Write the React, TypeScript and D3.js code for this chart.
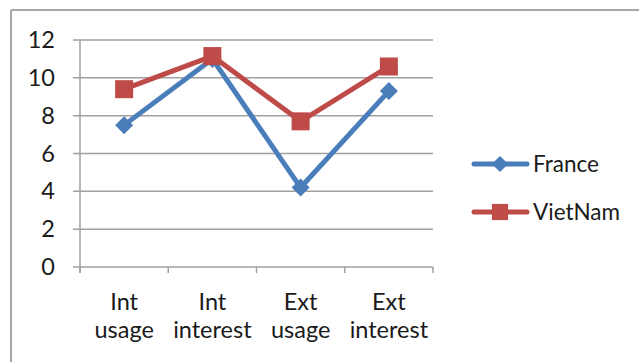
import * as d3 from 'd3';

const categories = [['Int', 'usage'], ['Int', 'interest'], ['Ext', 'usage'], ['Ext', 'interest']];
const franceValues = [7.5, 11.0, 4.2, 9.3];
const vietnamValues = [9.4, 11.15, 7.7, 10.6];
const yTicks = [0, 2, 4, 6, 8, 10, 12];

const series = [
  { name: 'France', values: franceValues, color: '#4a7ebb', marker: 'diamond' },
  { name: 'VietNam', values: vietnamValues, color: '#be4b48', marker: 'square' }
];

const W = 639;
const H = 362;
const FONT = 'Lato, "Open Sans", sans-serif';
const FS = 23.5;

export default function App() {
  const x0 = 80;
  const x1 = 433;
  const x = d3.scaleBand<number>().domain(d3.range(categories.length)).range([x0, x1]);
  const y = d3.scaleLinear().domain([0, 12]).range([267, 40]);
  const cx = (i: number) => (x(i) ?? 0) + x.bandwidth() / 2;
  const line = d3
    .line<number>()
    .x((_, i) => cx(i))
    .y((d) => y(d));

  const marker = (kind: string, mx: number, my: number, color: string, s = 1) =>
    kind === 'diamond' ? (
      <path
        d={`M${mx},${my - 9 * s}L${mx + 9 * s},${my}L${mx},${my + 9 * s}L${mx - 9 * s},${my}Z`}
        fill={color}
      />
    ) : (
      <rect x={mx - 9 * s} y={my - 9 * s} width={18 * s} height={18 * s} fill={color} />
    );

  return (
    <svg
      width={W}
      height={H}
      style={{ position: 'absolute', left: 0, top: 0, background: '#fff' }}
    >
      {/* chart frame */}
      <line x1={11} y1={10} x2={W} y2={10} stroke="#a6a6a6" strokeWidth={2} />
      <line x1={11} y1={10} x2={11} y2={H} stroke="#a6a6a6" strokeWidth={2} />

      {/* grid */}
      {yTicks.map((t) => (
        <g key={t}>
          <line x1={73} x2={x1} y1={y(t)} y2={y(t)} stroke="#a0a0a0" strokeWidth={1.5} />
          <text
            x={55}
            y={y(t) + 8}
            textAnchor="end"
            fontFamily={FONT}
            fontSize={FS}
            fill="#1a1a1a"
          >
            {t}
          </text>
        </g>
      ))}
      <line x1={x0} x2={x0} y1={y(12)} y2={273} stroke="#a0a0a0" strokeWidth={1.5} />
      {d3.range(categories.length + 1).map((i) => {
        const tx = i < categories.length ? x(i) ?? 0 : x1;
        return <line key={i} x1={tx} x2={tx} y1={y(0)} y2={273} stroke="#a0a0a0" strokeWidth={1.5} />;
      })}
      {categories.map((c, i) => (
        <text key={i} textAnchor="middle" fontFamily={FONT} fontSize={FS} fill="#1a1a1a">
          <tspan x={cx(i)} y={310}>
            {c[0]}
          </tspan>
          <tspan x={cx(i)} y={338}>
            {c[1]}
          </tspan>
        </text>
      ))}

      {/* series */}
      {series.map((s) => (
        <g key={s.name}>
          <path d={line(s.values) ?? ''} fill="none" stroke={s.color} strokeWidth={5} strokeLinejoin="round" />
          {s.values.map((v, i) => (
            <g key={i}>{marker(s.marker, cx(i), y(v), s.color)}</g>
          ))}
        </g>
      ))}

      {/* legend */}
      {series.map((s, i) => {
        const ly = 164 + i * 48;
        return (
          <g key={s.name}>
            <line x1={474} x2={527} y1={ly} y2={ly} stroke={s.color} strokeWidth={5} strokeLinecap="round" />
            {marker(s.marker, 500, ly, s.color, 0.9)}
            <text x={533} y={ly + 8} fontFamily={FONT} fontSize={FS - 1} fill="#1a1a1a">
              {s.name}
            </text>
          </g>
        );
      })}
    </svg>
  );
}
